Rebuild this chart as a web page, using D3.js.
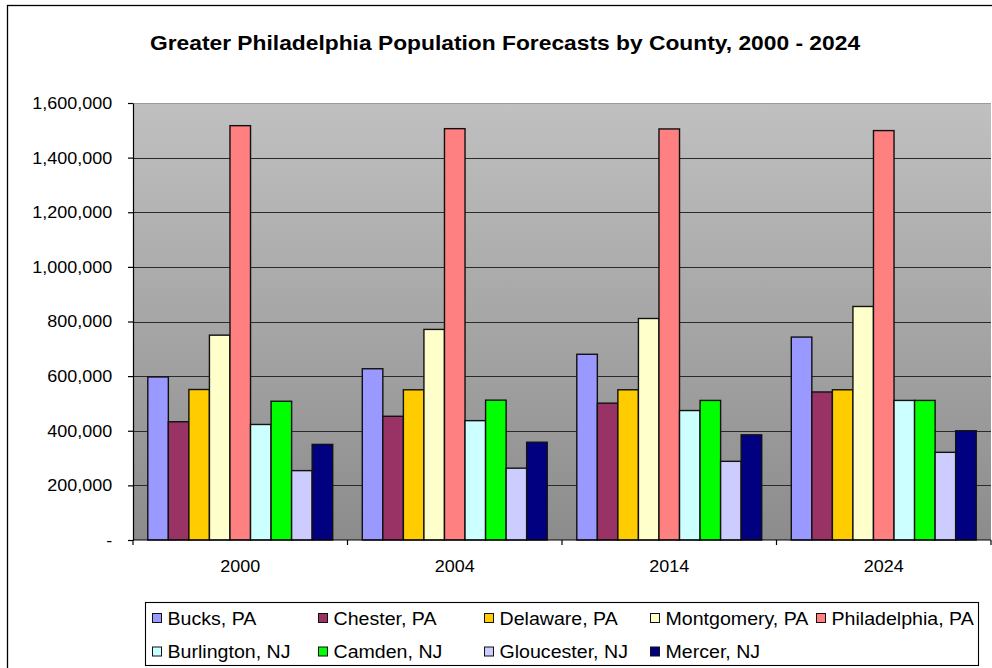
<!DOCTYPE html>
<html>
<head>
<meta charset="utf-8">
<script src="https://cdn.jsdelivr.net/npm/d3@7"></script>
<style>
  html, body { margin: 0; padding: 0; background: #fff; }
  svg { display: block; font-family: "Liberation Sans", Arial, sans-serif; }
</style>
</head>
<body>
<svg id="chart" width="992" height="668"></svg>
<script>
// Forecast years (category axis)
const years = ["2000", "2004", "2014", "2024"];

// Counties (one bar series each)
const counties = [
  "Bucks, PA", "Chester, PA", "Delaware, PA", "Montgomery, PA", "Philadelphia, PA",
  "Burlington, NJ", "Camden, NJ", "Gloucester, NJ", "Mercer, NJ"
];

// Population by county, one value per forecast year
const bucks        = [597000, 627000, 680000, 743000];
const chester      = [433000, 453000, 501000, 542000];
const delaware     = [551000, 550000, 550000, 550000];
const montgomery   = [750000, 771000, 811000, 855000];
const philadelphia = [1517000, 1506000, 1505000, 1499000];
const burlington   = [423000, 437000, 474000, 511000];
const camden       = [508000, 512000, 511000, 511000];
const gloucester   = [254000, 263000, 288000, 321000];
const mercer       = [350000, 358000, 385000, 400000];

// Value axis tick labels
const yTicks = [0, 200000, 400000, 600000, 800000, 1000000, 1200000, 1400000, 1600000];

// Series fill colours
const palette = ["#9999FF", "#993366", "#FFCC00", "#FFFFCC", "#FF8080",
                 "#CCFFFF", "#00FF00", "#CCCCFF", "#000080"];

const seriesValues = [bucks, chester, delaware, montgomery, philadelphia,
                      burlington, camden, gloucester, mercer];
const series = counties.map((name, i) => ({ name, values: seriesValues[i], color: palette[i] }));

// Flattened rows for drawing bars
const rows = [];
years.forEach((yr, yi) => {
  series.forEach(s => rows.push({ year: yr, county: s.name, value: s.values[yi], color: s.color }));
});

const svg = d3.select("#chart");
const plot = { left: 133, right: 991, top: 103, bottom: 540 };

const x0 = d3.scaleBand().domain(years).range([plot.left, plot.right]);
const x1 = d3.scaleBand().domain(counties).range([0, x0.bandwidth()])
  .paddingInner(0).paddingOuter(0.72);
const y = d3.scaleLinear().domain([0, 1600000]).range([plot.bottom, plot.top]);

// Outer chart border
svg.append("rect")
  .attr("x", 7.5).attr("y", 5.5).attr("width", 1000).attr("height", 700)
  .attr("fill", "#fff").attr("stroke", "#000").attr("stroke-width", 1.3);

// Title
svg.append("text")
  .attr("transform", "translate(505,50) scale(1.14,1)")
  .attr("text-anchor", "middle")
  .attr("font-weight", "bold")
  .attr("font-size", "20px")
  .attr("fill", "#000")
  .text("Greater Philadelphia Population Forecasts by County, 2000 - 2024");

// Plot area with vertical grey gradient
const defs = svg.append("defs");
const grad = defs.append("linearGradient").attr("id", "plotFill")
  .attr("x1", 0).attr("y1", 0).attr("x2", 0).attr("y2", 1);
grad.append("stop").attr("offset", "0%").attr("stop-color", "#c0c0c0");
grad.append("stop").attr("offset", "100%").attr("stop-color", "#8c8c8c");

svg.append("rect")
  .attr("x", plot.left).attr("y", plot.top)
  .attr("width", plot.right - plot.left).attr("height", plot.bottom - plot.top)
  .attr("fill", "url(#plotFill)");

svg.append("line")
  .attr("x1", plot.left).attr("x2", plot.right)
  .attr("y1", plot.top + 0.5).attr("y2", plot.top + 0.5)
  .attr("stroke", "#9a9a9a").attr("stroke-width", 1.2);

// Horizontal gridlines
svg.append("g").selectAll("line")
  .data(yTicks.filter(v => v > 0 && v < 1600000))
  .join("line")
  .attr("x1", plot.left).attr("x2", plot.right)
  .attr("y1", d => Math.round(y(d)) + 0.5).attr("y2", d => Math.round(y(d)) + 0.5)
  .attr("stroke", "#2a2a2a").attr("stroke-width", 1.1);

// Bars
svg.append("g").selectAll("rect")
  .data(rows)
  .join("rect")
  .attr("x", d => x0(d.year) + x1(d.county))
  .attr("y", d => y(d.value))
  .attr("width", x1.bandwidth())
  .attr("height", d => y(0) - y(d.value))
  .attr("fill", d => d.color)
  .attr("stroke", "#111")
  .attr("stroke-width", 1.4);

// Value axis
const yAxis = svg.append("g")
  .attr("transform", `translate(${plot.left},0)`)
  .call(d3.axisLeft(y).tickValues(yTicks).tickSize(5).tickSizeOuter(0).tickPadding(14.5)
    .tickFormat(d => d === 0 ? "-" : d3.format(",")(d)));
yAxis.select(".domain").attr("stroke", "#000").attr("stroke-width", 1.2);
yAxis.selectAll(".tick line").attr("stroke", "#000").attr("stroke-width", 1.2);
yAxis.selectAll("text")
  .attr("font-size", "16.8px").attr("font-family", "Liberation Sans, Arial, sans-serif")
  .attr("fill", "#000").attr("transform", "scale(1.07,1)");

// Category axis line and boundary ticks
svg.append("line")
  .attr("x1", plot.left).attr("x2", plot.right)
  .attr("y1", plot.bottom).attr("y2", plot.bottom)
  .attr("stroke", "#000").attr("stroke-width", 1.2);
const bounds = years.map(yr => x0(yr)).concat([x0.range()[1]]);
svg.append("g").selectAll("line")
  .data(bounds)
  .join("line")
  .attr("x1", d => d).attr("x2", d => d)
  .attr("y1", plot.bottom).attr("y2", plot.bottom + 5)
  .attr("stroke", "#000").attr("stroke-width", 1.2);

// Category labels
const xAxis = svg.append("g")
  .attr("transform", `translate(0,${plot.bottom})`)
  .call(d3.axisBottom(x0).tickSize(0).tickPadding(20.5));
xAxis.select(".domain").remove();
xAxis.selectAll(".tick").each(function () {
  const t = d3.select(this);
  t.select("text")
    .attr("font-size", "16.8px").attr("font-family", "Liberation Sans, Arial, sans-serif")
    .attr("fill", "#000").attr("transform", "scale(1.07,1)")
    .attr("x", 0);
});
// Keep labels centred under stretch by scaling about each tick's own origin
xAxis.selectAll(".tick text").attr("transform", "scale(1.07,1)");

// Legend
const legend = svg.append("g");
legend.append("rect")
  .attr("x", 145.5).attr("y", 602.5).attr("width", 833).attr("height", 63)
  .attr("fill", "#fff").attr("stroke", "#000").attr("stroke-width", 1.1);

const item = legend.selectAll("g.item")
  .data(series)
  .join("g")
  .attr("class", "item")
  .attr("transform", (d, i) => {
    const col = i < 5 ? i : i - 5;
    const row = i < 5 ? 0 : 1;
    return `translate(${152.5 + col * 166},${613.5 + row * 33.5})`;
  });
item.append("rect")
  .attr("width", 9).attr("height", 9)
  .attr("fill", d => d.color).attr("stroke", "#111").attr("stroke-width", 1);
item.append("text")
  .attr("transform", "translate(15,11) scale(1.12,1)")
  .attr("font-size", "17.5px")
  .attr("fill", "#000")
  .text(d => d.name);
</script>
</body>
</html>
